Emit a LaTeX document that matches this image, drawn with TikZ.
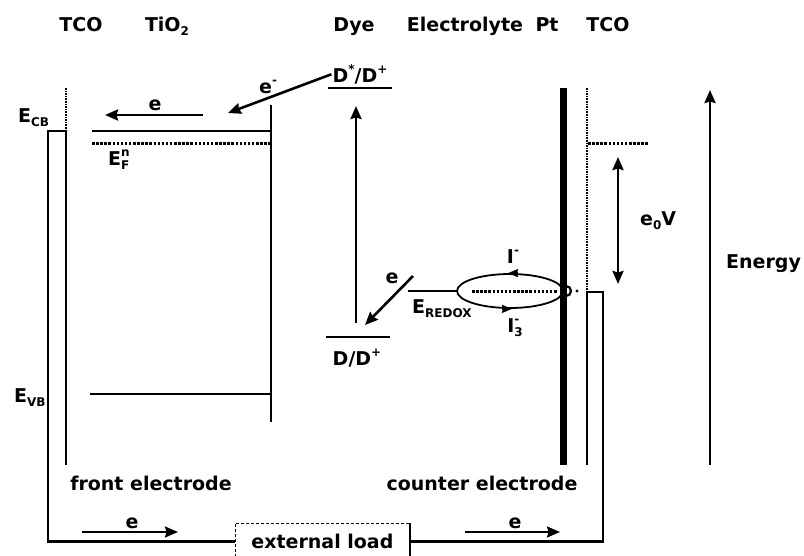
\documentclass[tikz,border=0pt]{standalone}
\usepackage{fontspec}
\setmainfont{DejaVu Sans}
\usepackage{tikz}
\usetikzlibrary{arrows.meta,positioning,shapes.geometric}
\newcommand{\supx}[1]{\raisebox{0.8ex}{\fontsize{12}{12}\selectfont #1}}
\newcommand{\subx}[1]{\raisebox{-0.45ex}{\fontsize{12}{12}\selectfont #1}}
\tikzset{
  hdr/.style={font=\fontsize{19}{22}\selectfont\bfseries,inner sep=0pt,anchor=base},
  lbl/.style={font=\fontsize{19}{22}\selectfont\bfseries,inner sep=1pt},
  arr/.style={-{Stealth[length=13pt,width=11pt,inset=1.5pt]},line width=2.6pt},
  darr/.style={{Stealth[length=13pt,width=11pt,inset=1.5pt]}-{Stealth[length=13pt,width=11pt,inset=1.5pt]},line width=2.6pt},
  tip/.style={-{Stealth[length=10pt,width=8pt,inset=1pt]},line width=1.8pt},
  lvl/.style={line width=2.8pt},
  fermi/.style={line width=3pt,dash pattern=on 2.5pt off 1.6pt},
  elec/.style={line width=1.6pt},
  wire/.style={line width=2.4pt},
  loadbox/.style={draw,densely dashed,line width=0.9pt,fill=white,font=\fontsize{19}{22}\selectfont\bfseries,
    anchor=north west,minimum width=174pt,text height=14pt,text depth=0pt,inner ysep=11pt},
}
\begin{document}
\begin{tikzpicture}[x=1pt,y=-1pt]
  \useasboundingbox (0,0) rectangle (804,555);
  \fill[white] (0,0) rectangle (804,555);
  \clip (0,0) rectangle (804,555);
  % layer names
  \node[hdr] (hTcoL) at (81,31) {TCO};
  \node[hdr] (hTio) at (167,31) {TiO\subx{2}};
  \node[hdr] (hDye) at (354,31) {Dye};
  \node[hdr] (hElyt) at (465,31) {Electrolyte};
  \node[hdr] (hPt) at (547,31) {Pt};
  \node[hdr] (hTcoR) at (608,31) {TCO};
  % electrodes
  \draw[elec,densely dotted] (66,88) -- (66,131);
  \draw[elec] (66,131) -- (66,465);
  \draw[line width=7pt] (563,88) -- (563,465);
  \draw[elec,densely dotted] (587,88) -- (587,292);
  \draw[elec] (587,292) -- (587,465);
  % TiO2 bands
  \coordinate (jL) at (66,131);
  \draw[lvl] (92,131) -- (272,131);
  \draw[fermi] (92,143) -- (272,143);
  \draw[lvl] (90,394) -- (271,394);
  \draw[line width=2pt] (271,105) -- (271,422);
  \node[lbl,anchor=base west] (eCB) at (17,122) {E\subx{CB}};
  \node[lbl,anchor=base west] (eVB) at (13,402) {E\subx{VB}};
  \node[lbl,anchor=base west] (eFn) at (107,165) {E\rlap{\supx{n}}\subx{F}};
  % dye levels
  \draw[lvl] (328,88) -- (392,88);
  \draw[lvl] (326,337) -- (390,337);
  \node[lbl,anchor=base] (dStar) at (360,82) {D\supx{*}/D\supx{+}};
  \node[lbl,anchor=base] (dGround) at (357,365) {D/D\supx{+}};
  \coordinate (exB) at (356,323);
  \coordinate (exT) at (356,106);
  \draw[arr] (exB) -- (exT);
  % injection
  \coordinate (inj) at (228,113);
  \draw[arr] (dStar.west) -- (inj);
  \node[lbl,anchor=base west] (eInj) at (258,93) {e\supx{-}};
  \coordinate (eT1) at (203,115);
  \coordinate (eT2) at (105,115);
  \draw[arr] (eT1) -- (eT2);
  \node[lbl,anchor=base] (eTi) at (155,110) {e};
  % redox couple
  \node[ellipse,draw,line width=1.8pt,minimum width=106pt,minimum height=34pt,inner sep=0pt] (redox) at (510,291) {};
  \coordinate (rdx) at (408,291);
  \draw[lvl] (rdx) -- (redox.west);
  \draw[fermi] (472,291) -- (557,291);
  \node[circle,draw,line width=2.2pt,minimum size=10pt,inner sep=0pt] (ptc) at (566,291) {};
  \fill (577,291) circle (1.6pt);
  \draw[tip] ([xshift=8pt]redox.north) -- ([xshift=-2pt]redox.north);
  \draw[tip] ([xshift=-8pt]redox.south) -- ([xshift=2pt]redox.south);
  \node[lbl,anchor=base] (iMinus) at (513,263) {I\supx{-}};
  \node[lbl,anchor=base] (iThree) at (515,332) {I\rlap{\supx{-}}\subx{3}};
  \node[lbl,anchor=base west] (eRedox) at (411,313) {E\subx{REDOX}};
  \coordinate (rg1) at (413,276);
  \coordinate (rg2) at (365,325);
  \draw[arr] (rg1) -- (rg2);
  \node[lbl,anchor=base] (eReg) at (392,283) {e};
  % counter side
  \draw[fermi] (588,143) -- (648,143);
  \coordinate (vT) at (618,157);
  \coordinate (vB) at (618,284);
  \draw[darr] (vT) -- (vB);
  \node[lbl,anchor=base west] (eV) at (639,225) {e\subx{0}V};
  \coordinate (enB) at (710,465);
  \coordinate (enT) at (710,90);
  \draw[arr] (enB) -- (enT);
  \node[lbl,anchor=base west] (energy) at (725,268) {Energy};
  \node[lbl,anchor=base] (front) at (151,490) {front electrode};
  \node[lbl,anchor=base] (counter) at (482,490) {counter electrode};
  % external circuit
  \node[loadbox] (load) at (235,523) {external load};
  \draw[wire] (load.north east) -- (load.south east);
  \coordinate (jR) at (587,292);
  \draw[wire] (jL) -- (48,131) |- (load.west);
  \draw[wire] (load.east) -| (603,292) -- (jR);
  \coordinate (bl1) at (82,532);
  \coordinate (bl2) at (178,532);
  \draw[arr,line width=2pt] (bl1) -- (bl2);
  \node[lbl,anchor=base] (eBL) at (132,528) {e};
  \coordinate (br1) at (465,532);
  \coordinate (br2) at (560,532);
  \draw[arr,line width=2pt] (br1) -- (br2);
  \node[lbl,anchor=base] (eBR) at (515,528) {e};
\end{tikzpicture}
\end{document}
